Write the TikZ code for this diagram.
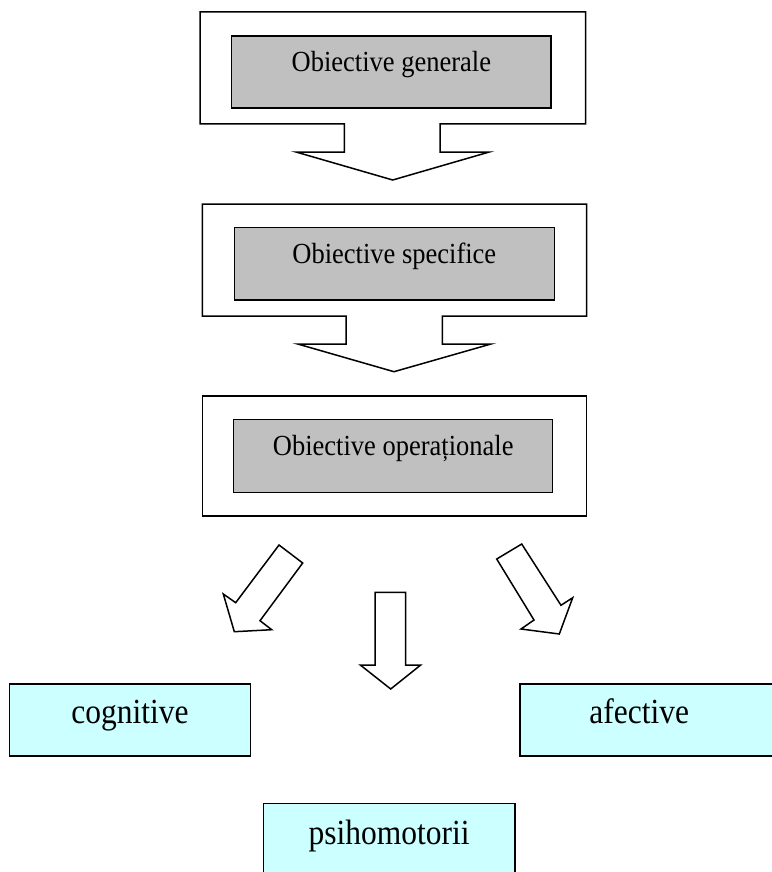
\documentclass[tikz,border=0pt]{standalone}
\usepackage{graphicx}
\usepackage{fontspec}
\setmainfont{Liberation Serif}
\definecolor{boxgray}{HTML}{C0C0C0}
\definecolor{boxcyan}{HTML}{CCFFFF}
\newcommand{\tallA}[1]{\scalebox{1}[1.1]{#1}}
\newcommand{\tallB}[1]{\scalebox{1}[1.12]{#1}}
\begin{document}
\begin{tikzpicture}[x=1pt,y=-1pt,
  shapeline/.style={draw=black,line width=1.5pt,line join=miter,fill=white},
  innerbox/.style={draw=black,line width=1.5pt,fill=boxgray,inner sep=0pt,
    text height=12pt,text depth=12pt,font=\fontsize{26.5}{30}\selectfont},
  cyanbox/.style={draw=black,line width=1.5pt,fill=boxcyan,inner sep=0pt,
    minimum height=72pt,text height=15pt,text depth=9pt,font=\fontsize{31.5}{36}\selectfont}]
\useasboundingbox (0,0) rectangle (771,872);
\fill[white] (0,0) rectangle (771,872);

% outer callout shape 1
\draw[shapeline] (200,12) coordinate (o1) -- (585.7,12) -- (585.7,124) -- (440,124) -- (440,152)
  -- (489.3,152) -- (392.7,180) coordinate (tip1) -- (296,152) -- (344.3,152) -- (344.3,124) -- (200,124) -- cycle;
\node[innerbox,minimum width=319.3pt,minimum height=72pt] (gen) at (391.3,72) {\tallA{Obiective generale}};

% outer callout shape 2
\draw[shapeline] (202.3,204) coordinate (o2) -- (586.7,204) -- (586.7,316) -- (442.3,316) -- (442.3,344)
  -- (491,344) -- (394,371.7) coordinate (tip2) -- (297.7,344) -- (346,344) -- (346,316) -- (202.3,316) -- cycle;
\node[innerbox,minimum width=320pt,minimum height=72.3pt] (spec) at (394.3,263.8) {\tallA{Obiective specifice}};

% outer box 3
\node[shapeline,inner sep=0pt,minimum width=384.4pt,minimum height=120pt] (out3) at (394.5,456) {};
\node[innerbox,minimum width=319pt,minimum height=73pt] (oper) at (393.2,455.8) {\tallA{Obiective operaționale}};

% bottom block arrows
\draw[shapeline] (279,545) -- (302.7,563) -- (260,620.7) -- (271.7,629.7) -- (234.3,631.7)
  -- (223.3,594) -- (235.7,602.7) -- cycle;
\draw[shapeline] (375,592.3) -- (405.7,592.3) -- (405.7,665) -- (420.7,665) -- (390.7,689)
  -- (360.3,665) -- (375,665) -- cycle;
\draw[shapeline] (521.7,544) -- (496.7,559) -- (534,620) -- (521,629) -- (559.3,634)
  -- (572.7,597.7) -- (561,605.3) -- cycle;

% target boxes
\node[cyanbox,minimum width=241.4pt] (cog) at (130,720) {\tallB{cognitive}};
\node[cyanbox,minimum width=255pt] (afe) at (647.5,720) {\tallB{afective}\hspace*{16.6pt}};
\node[cyanbox,minimum width=251.7pt,minimum height=80pt,text height=13pt,text depth=11pt] (psi) at (389.2,843.3) {\tallB{psihomotorii}};
\end{tikzpicture}
\end{document}
